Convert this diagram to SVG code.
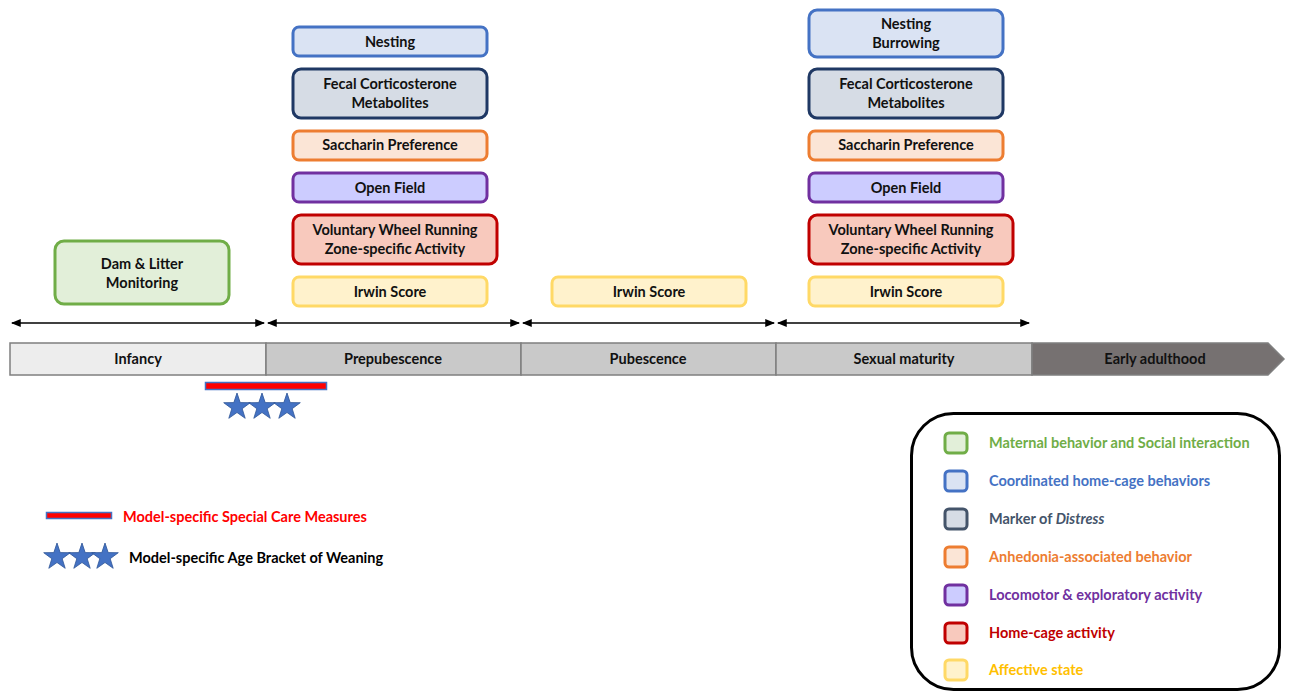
<svg xmlns="http://www.w3.org/2000/svg" width="1292" height="691" viewBox="0 0 1292 691">
<defs>
<style>
text{font-family:Lato,"Open Sans","Liberation Sans",sans-serif;font-weight:bold;font-size:14.5px;}
.c{text-anchor:middle;fill:#111;}
.bx{stroke-width:3;}
.g{fill:#e2efd9;stroke:#70ad47;}
.b{fill:#dae3f3;stroke:#4472c4;}
.n{fill:#d6dce5;stroke:#1f3864;}
.nl{fill:#d6dce5;stroke:#44546a;}
.o{fill:#fbe5d6;stroke:#ed7d31;}
.p{fill:#ccccff;stroke:#7030a0;}
.r{fill:#f8c9bd;stroke:#c00000;}
.y{fill:#fff2cc;stroke:#ffd966;}
.seg{stroke:#7f7f7f;stroke-width:1.5;}
.ar{stroke:#000;stroke-width:1.5;fill:none;marker-start:url(#ah);marker-end:url(#ah);}
.star{fill:#4472c4;stroke:#2f5597;stroke-width:0.8;}
</style>
<marker id="ah" viewBox="0 0 10 10" refX="9" refY="5" markerWidth="6.5" markerHeight="6.5" orient="auto-start-reverse" markerUnits="strokeWidth">
<path d="M0,1 L10,5 L0,9 z" fill="#000"/>
</marker>
<polygon id="st" points="0,-14 3.2,-4.4 13.3,-4.3 5.2,1.7 8.2,11.3 0,5.5 -8.2,11.3 -5.2,1.7 -13.3,-4.3 -3.2,-4.4"/>
</defs>

<g id="connectors">
<line class="ar" x1="12" y1="323" x2="264" y2="323"/>
<line class="ar" x1="268" y1="323" x2="519" y2="323"/>
<line class="ar" x1="523" y1="323" x2="774" y2="323"/>
<line class="ar" x1="778" y1="323" x2="1029" y2="323"/>
</g>

<g id="timeline">
<rect class="seg" x="10" y="343" width="256" height="32" fill="#ededed"/>
<rect class="seg" x="266" y="343" width="255" height="32" fill="#c9c9c9"/>
<rect class="seg" x="521" y="343" width="255" height="32" fill="#c9c9c9"/>
<rect class="seg" x="776" y="343" width="256" height="32" fill="#c9c9c9"/>
<polygon class="seg" points="1032,343 1268,343 1284,359 1268,375 1032,375" fill="#767171"/>
<text class="c" x="138" y="364">Infancy</text>
<text class="c" x="393" y="364">Prepubescence</text>
<text class="c" x="648" y="364">Pubescence</text>
<text class="c" x="904" y="364">Sexual maturity</text>
<text class="c" x="1155" y="364">Early adulthood</text>
</g>

<g id="dam">
<rect class="bx g" x="55" y="241" width="174" height="63" rx="9"/>
<text class="c" x="142" y="269">Dam &amp; Litter</text>
<text class="c" x="142" y="288">Monitoring</text>
</g>

<g id="pre-nesting"><rect class="bx b" x="293" y="27" width="194" height="29" rx="6"/><text class="c" x="390" y="47">Nesting</text></g>
<g id="pre-fecal"><rect class="bx n" x="293" y="69" width="194" height="49" rx="8"/><text class="c" x="390" y="89">Fecal Corticosterone</text><text class="c" x="390" y="108">Metabolites</text></g>
<g id="pre-saccharin"><rect class="bx o" x="293" y="131" width="194" height="29" rx="6"/><text class="c" x="390" y="150">Saccharin Preference</text></g>
<g id="pre-openfield"><rect class="bx p" x="293" y="173" width="194" height="29" rx="6"/><text class="c" x="390" y="193">Open Field</text></g>
<g id="pre-wheel"><rect class="bx r" x="293" y="215" width="204" height="49" rx="8"/><text class="c" x="395" y="235">Voluntary Wheel Running</text><text class="c" x="395" y="254">Zone-specific Activity</text></g>
<g id="pre-irwin"><rect class="bx y" x="293" y="277" width="194" height="29" rx="6"/><text class="c" x="390" y="297">Irwin Score</text></g>

<g id="pub-irwin"><rect class="bx y" x="552" y="277" width="194" height="29" rx="6"/><text class="c" x="649" y="297">Irwin Score</text></g>

<g id="sex-nesting"><rect class="bx b" x="809" y="10" width="194" height="47" rx="8"/><text class="c" x="906" y="29">Nesting</text><text class="c" x="906" y="48">Burrowing</text></g>
<g id="sex-fecal"><rect class="bx n" x="809" y="69" width="194" height="49" rx="8"/><text class="c" x="906" y="89">Fecal Corticosterone</text><text class="c" x="906" y="108">Metabolites</text></g>
<g id="sex-saccharin"><rect class="bx o" x="809" y="131" width="194" height="29" rx="6"/><text class="c" x="906" y="150">Saccharin Preference</text></g>
<g id="sex-openfield"><rect class="bx p" x="809" y="173" width="194" height="29" rx="6"/><text class="c" x="906" y="193">Open Field</text></g>
<g id="sex-wheel"><rect class="bx r" x="809" y="215" width="204" height="49" rx="8"/><text class="c" x="911" y="235">Voluntary Wheel Running</text><text class="c" x="911" y="254">Zone-specific Activity</text></g>
<g id="sex-irwin"><rect class="bx y" x="809" y="277" width="194" height="29" rx="6"/><text class="c" x="906" y="297">Irwin Score</text></g>

<g id="weaning-markers">
<rect x="205.5" y="382.5" width="121" height="7" fill="#ff0000" stroke="#4472c4" stroke-width="1.5"/>
<use href="#st" class="star" x="237" y="407"/>
<use href="#st" class="star" x="262" y="407"/>
<use href="#st" class="star" x="287" y="407"/>
</g>

<g id="legend-left">
<rect x="46.5" y="512.5" width="65" height="6" fill="#ff0000" stroke="#4472c4" stroke-width="1.5"/>
<text x="123" y="522" fill="#ff0000">Model-specific Special Care Measures</text>
<use href="#st" class="star" x="57" y="557"/>
<use href="#st" class="star" x="82" y="557"/>
<use href="#st" class="star" x="105" y="557"/>
<text x="129" y="563" fill="#000">Model-specific Age Bracket of Weaning</text>
</g>

<g id="legend-right">
<rect x="911.5" y="413.5" width="368" height="276" rx="42" fill="#fff" stroke="#000" stroke-width="3"/>
<rect class="bx g" x="945" y="433" width="22" height="20" rx="4"/><text x="989" y="448" fill="#70ad47">Maternal behavior and Social interaction</text>
<rect class="bx b" x="945" y="471" width="22" height="20" rx="4"/><text x="989" y="486" fill="#4472c4">Coordinated home-cage behaviors</text>
<rect class="bx nl" x="945" y="509" width="22" height="20" rx="4"/><text x="989" y="524" fill="#44546a">Marker of <tspan font-style="italic">Distress</tspan></text>
<rect class="bx o" x="945" y="547" width="22" height="20" rx="4"/><text x="989" y="562" fill="#ed7d31">Anhedonia-associated behavior</text>
<rect class="bx p" x="945" y="585" width="22" height="20" rx="4"/><text x="989" y="600" fill="#7030a0">Locomotor &amp; exploratory activity</text>
<rect class="bx r" x="945" y="623" width="22" height="20" rx="4"/><text x="989" y="638" fill="#c00000">Home-cage activity</text>
<rect class="bx y" x="945" y="660" width="22" height="20" rx="4"/><text x="989" y="675" fill="#ffc000">Affective state</text>
</g>
</svg>
